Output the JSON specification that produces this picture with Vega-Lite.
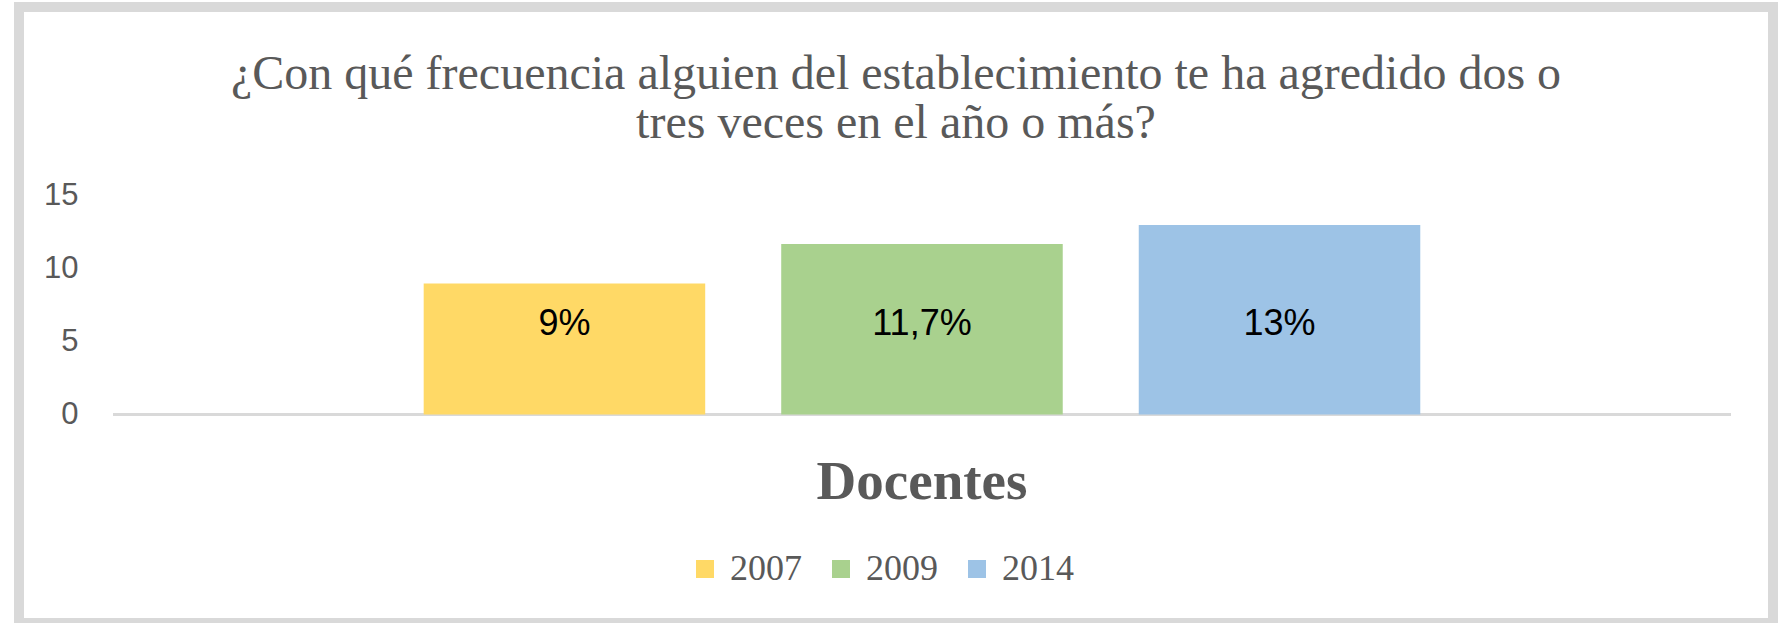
{
  "$schema": "https://vega.github.io/schema/vega-lite/v6.json",
  "width": 1754,
  "height": 616,
  "autosize": {"type": "none"},
  "padding": {"left": 19, "top": 7, "right": 10, "bottom": 0},
  "background": "white",
  "config": {
    "view": {"stroke": "#d9d9d9", "strokeWidth": 10, "fill": "white"}
  },
  "title": {
    "text": ["¿Con qué frecuencia alguien del establecimiento te ha agredido dos o", "tres veces en el año o más?"],
    "font": "Liberation Serif",
    "fontSize": 48,
    "fontWeight": "normal",
    "color": "#595959",
    "lineHeight": 49,
    "offset": -141,
    "anchor": "middle"
  },
  "data": {
    "values": [
      {"grupo": "Docentes", "anio": "2007", "valor": 9, "etiqueta": "9%"},
      {"grupo": "Docentes", "anio": "2009", "valor": 11.7, "etiqueta": "11,7%"},
      {"grupo": "Docentes", "anio": "2014", "valor": 13, "etiqueta": "13%"}
    ]
  },
  "encoding": {
    "x": {
      "field": "grupo",
      "type": "nominal",
      "scale": {"paddingInner": 0, "paddingOuter": 0.04203, "align": 0.691},
      "axis": {
        "title": null,
        "labelFont": "Liberation Serif",
        "labelFontWeight": "bold",
        "labelFontSize": 55,
        "labelColor": "#595959",
        "labelAngle": 0,
        "labelLimit": 0,
        "domain": false,
        "ticks": false,
        "labelPadding": 0,
        "offset": -167.5
      }
    }
  },
  "layer": [
    {
      "mark": {"type": "bar", "fillOpacity": 0, "stroke": "#d9d9d9", "strokeWidth": 3},
      "encoding": {
        "y": {
          "datum": 0,
          "type": "quantitative",
          "scale": {"domain": [-14.31, 27.97], "nice": false, "zero": false},
          "axis": {"values": [0, 5, 10, 15], "title": null, "domain": false, "ticks": false, "grid": false, "labelPadding": 0, "offset": -59, "labelFont": "Liberation Sans", "labelFontSize": 31, "labelColor": "#595959"}
        },
        "y2": {"datum": 0}
      }
    },
    {
      "mark": {"type": "bar"},
      "encoding": {
        "xOffset": {"field": "anio", "type": "nominal", "scale": {"paddingInner": 0.2126, "paddingOuter": 0.869}},
        "y": {
          "field": "valor",
          "type": "quantitative",
          "scale": {"domain": [-14.31, 27.97], "nice": false, "zero": false},
          "axis": {"values": [0, 5, 10, 15], "title": null, "domain": false, "ticks": false, "grid": false, "labelPadding": 0, "offset": -59, "labelFont": "Liberation Sans", "labelFontSize": 31, "labelColor": "#595959"}
        },
        "y2": {"datum": 0},
        "color": {
          "field": "anio",
          "type": "nominal",
          "scale": {"domain": ["2007", "2009", "2014"], "range": ["#FFD966", "#A9D18E", "#9DC3E6"]},
          "legend": {
            "orient": "none",
            "legendX": 668,
            "legendY": 544,
            "direction": "horizontal",
            "title": null,
            "labelFont": "Liberation Serif",
            "labelFontSize": 36,
            "labelColor": "#595959",
            "symbolType": "square",
            "symbolSize": 324,
            "symbolStrokeWidth": 0,
            "labelOffset": 7,
            "columnPadding": 21,
            "padding": 0
          }
        }
      }
    },
    {
      "mark": {"type": "text", "font": "Liberation Sans", "fontSize": 36, "color": "#000000", "baseline": "middle"},
      "encoding": {
        "xOffset": {"field": "anio", "type": "nominal", "scale": {"paddingInner": 0.2126, "paddingOuter": 0.869}},
        "y": {
          "datum": 6.2,
          "type": "quantitative",
          "scale": {"domain": [-14.31, 27.97], "nice": false, "zero": false},
          "axis": {"values": [0, 5, 10, 15], "title": null, "domain": false, "ticks": false, "grid": false, "labelPadding": 0, "offset": -59, "labelFont": "Liberation Sans", "labelFontSize": 31, "labelColor": "#595959"}
        },
        "text": {"field": "etiqueta"}
      }
    }
  ]
}
